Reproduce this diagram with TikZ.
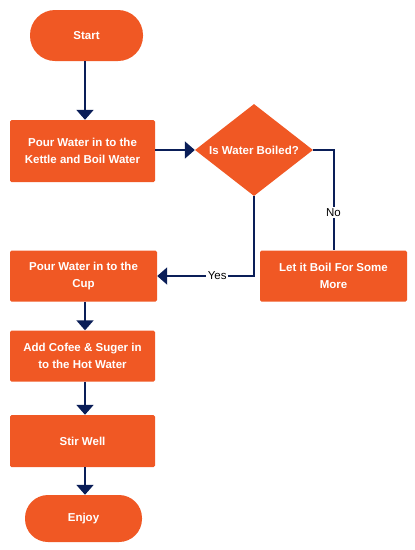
\documentclass[tikz,border=0pt]{standalone}
\usepackage{fontspec}
\setmainfont{Liberation Sans}
\usetikzlibrary{shapes.geometric,arrows.meta}
\definecolor{boxorange}{RGB}{240,88,36}
\definecolor{linenavy}{RGB}{10,30,88}
\begin{document}
\begin{tikzpicture}[x=1pt,y=-1pt,
  every node/.style={font=\fontsize{11.5}{16.8}\selectfont},
  procbox/.style={draw=none,fill=boxorange,text=white,font=\fontsize{11.5}{16.8}\selectfont\bfseries,align=center,inner sep=0pt,rounded corners=1.5pt},
  termbox/.style={procbox,rounded corners=23pt},
  decbox/.style={procbox,diamond,shape aspect=1.28,rounded corners=0pt},
  flow/.style={draw=linenavy,line width=2pt,-{Triangle[width=17pt,length=10pt]}},
  plain/.style={draw=linenavy,line width=2pt},
  lbl/.style={fill=white,inner sep=1.5pt,text=black}
]
\useasboundingbox (0,0) rectangle (415,550);
\node[termbox,minimum width=113pt,minimum height=51pt,rounded corners=25pt] (start) at (86.5,35.5) {Start};
\node[procbox,minimum width=145pt,minimum height=62pt] (b1) at (82.5,151) {Pour Water in to the\\Kettle and Boil Water};
\node[decbox,minimum width=118pt,minimum height=92pt] (dec) at (254,150) {Is Water Boiled?};
\node[procbox,minimum width=147pt,minimum height=51pt] (boil) at (333.5,276) {Let it Boil For Some\\More};
\node[procbox,minimum width=147pt,minimum height=51pt] (b2) at (83.5,276) {Pour Water in to the\\Cup};
\node[procbox,minimum width=145pt,minimum height=51pt] (b3) at (82.5,356) {Add Cofee \& Suger in\\to the Hot Water};
\node[procbox,minimum width=145pt,minimum height=52pt] (b4) at (82.5,441) {Stir Well};
\node[termbox,minimum width=117pt,minimum height=47pt] (enjoy) at (83.5,518.5) {Enjoy};
\coordinate (x0) at (85,0);
\draw[flow] (start.south -| x0) -- (b1.north -| x0);
\draw[flow] (b1.east |- dec.west) -- (dec.west);
\draw[plain] (dec.east) -| node[lbl,pos=0.81] (no) {No} (boil.north);
\draw[flow] (dec.south) |- node[lbl,pos=0.69] (yes) {Yes} (b2.east);
\draw[flow] (b2.south -| x0) -- (b3.north -| x0);
\draw[flow] (b3.south -| x0) -- (b4.north -| x0);
\draw[flow] (b4.south -| x0) -- (enjoy.north -| x0);
\end{tikzpicture}
\end{document}
